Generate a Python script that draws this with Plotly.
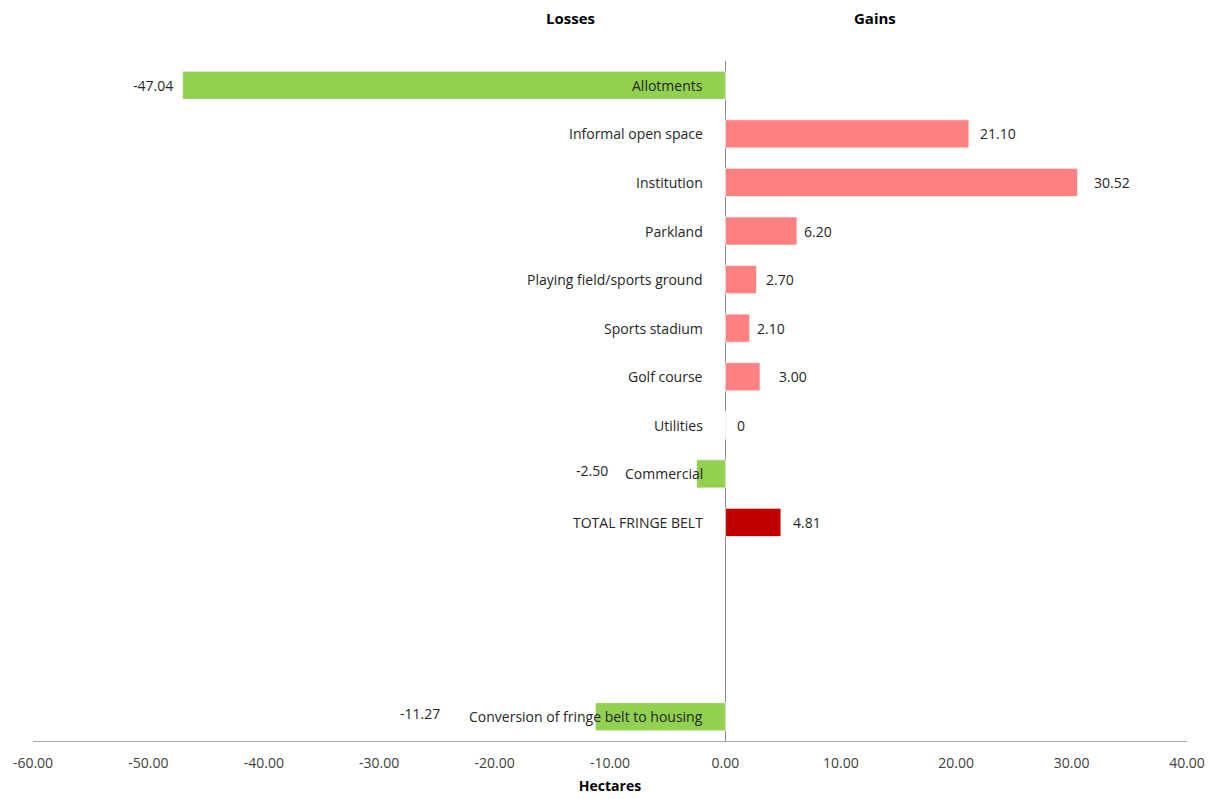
import plotly.graph_objects as go

# ---- data ----
categories = [
    "Allotments",
    "Informal open space",
    "Institution",
    "Parkland",
    "Playing field/sports ground",
    "Sports stadium",
    "Golf course",
    "Utilities",
    "Commercial",
    "TOTAL FRINGE BELT",
    " ",
    "  ",
    "   ",
    "Conversion of fringe belt to housing",
]
values = [-47.04, 21.10, 30.52, 6.20, 2.70, 2.10, 3.00, 0, -2.50, 4.81, None, None, None, -11.27]
x_ticks = [-60, -50, -40, -30, -20, -10, 0, 10, 20, 30, 40]
x_tick_labels = [f"{t:.2f}" for t in x_ticks]

# ---- styles ----
GREEN = "#92D050"
PINK = "#FF8080"
DARKRED = "#C00000"
FONT = "Open Sans"
TXT = "#262626"
# manual label offsets (px) as placed in the original chart
label_xshift = [-8, 9, 14, 5, 7, 5, 17, 10, -87, 10, 0, 0, 0, -153]
label_yshift = [0, 0, 0, 0, 0, 0, 0, 0, 3, 0, 0, 0, 0, 3]

colors = []
for c, v in zip(categories, values):
    if c == "TOTAL FRINGE BELT":
        colors.append(DARKRED)
    elif v is not None and v < 0:
        colors.append(GREEN)
    else:
        colors.append(PINK)

fig = go.Figure(
    go.Bar(
        x=values,
        y=categories,
        orientation="h",
        width=0.58,
        marker=dict(color=colors, line=dict(color="rgba(255,255,255,0.7)", width=1)),
        hoverinfo="x+y",
    )
)

annotations = []
for i, (c, v) in enumerate(zip(categories, values)):
    if v is None:
        continue
    annotations.append(dict(
        x=0, y=c, xref="x", yref="y", text=c, showarrow=False,
        xanchor="right", xshift=-20, font=dict(family=FONT, size=14, color=TXT),
    ))
    txt = "0" if v == 0 else f"{v:.2f}"
    annotations.append(dict(
        x=v, y=c, xref="x", yref="y", text=txt, showarrow=False,
        xanchor="left" if v >= 0 else "right",
        xshift=label_xshift[i], yshift=label_yshift[i],
        font=dict(family=FONT, size=14, color=TXT),
    ))

annotations.append(dict(x=-13.4, y=1, xref="x", yref="paper", yshift=54, text="<b>Losses</b>",
                        showarrow=False, borderpad=0, font=dict(family=FONT, size=15, color="#000000")))
annotations.append(dict(x=13.0, y=1, xref="x", yref="paper", yshift=54, text="<b>Gains</b>",
                        showarrow=False, borderpad=0, font=dict(family=FONT, size=15, color="#000000")))

# page body has an 8px margin, so the figure is sized/offset to compensate
fig.update_layout(
    width=1205,
    height=791,
    margin=dict(l=25, r=26, t=53, b=58, autoexpand=False),
    paper_bgcolor="white",
    plot_bgcolor="white",
    showlegend=False,
    annotations=annotations,
    xaxis=dict(
        range=[-60, 40],
        tickvals=x_ticks,
        ticktext=x_tick_labels,
        showgrid=False,
        zeroline=True,
        zerolinecolor="#8C8C8C",
        zerolinewidth=1,
        showline=True,
        linecolor="#A6A6A6",
        linewidth=1,
        ticks="",
        automargin=False,
        ticklabelstandoff=9,
        tickfont=dict(family=FONT, size=14, color="#404040"),
        title=dict(text="<b>Hectares</b>", font=dict(family=FONT, size=14, color="#000000"), standoff=10),
    ),
    yaxis=dict(
        type="category",
        categoryorder="array",
        categoryarray=categories,
        autorange="reversed",
        automargin=False,
        showticklabels=False,
        showgrid=False,
        zeroline=False,
        showline=False,
        ticks="",
    ),
)

fig.write_html("out.html")
